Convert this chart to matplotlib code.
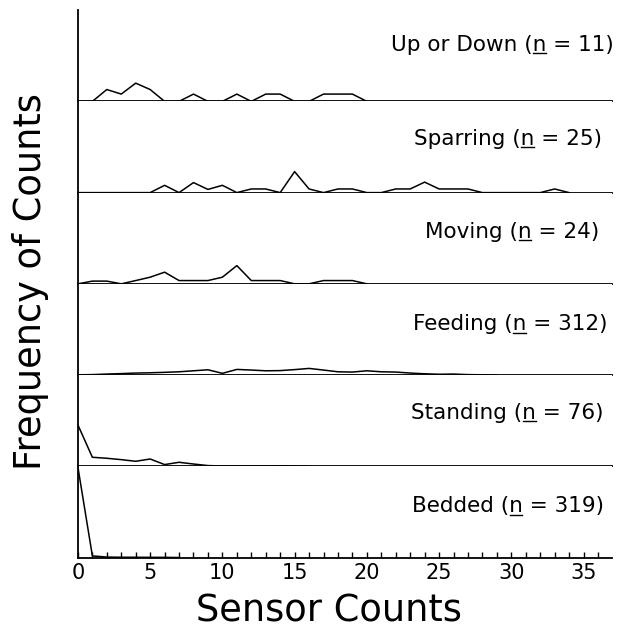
import matplotlib.pyplot as plt
from matplotlib.lines import Line2D
import numpy as np

plt.rcParams['font.family'] = ['DejaVu Sans']

behaviours = ['Up or Down', 'Sparring', 'Moving', 'Feeding', 'Standing', 'Bedded']
sample_sizes = [11, 25, 24, 312, 76, 319]

# percent of counts at each sensor count (list index = sensor count)
up_down = [0, 0, 13, 8, 20, 13, 0, 0, 8, 0, 0, 8, 0, 8, 8, 0, 0, 8, 8, 8, 0]
sparring = [0, 0, 0, 0, 0, 0, 8, 0, 11, 3.5, 8, 0, 4, 4, 0, 23, 4, 0, 4, 4,
            0, 0, 4, 4, 11.5, 4, 4, 4, 0, 0, 0, 0, 0, 4, 0]
moving = [0, 3, 3, 0, 3.6, 7.3, 12.8, 3.6, 3.6, 3.6, 7.3, 20, 3.6, 3.6, 3.6,
          0, 0, 3.6, 3.6, 3.6, 0]
feeding = [0.3, 0.5, 1.1, 1.6, 2.2, 2.5, 3.0, 3.6, 4.7, 5.8, 1.9, 6.2, 5.5, 4.7,
           4.9, 6.0, 7.3, 5.5, 3.6, 3.3, 4.7, 3.6, 3.3, 2.2, 1.4, 0.9, 1.1, 0.5,
           0.3, 0]
standing = [45.3, 9.9, 8.8, 7.3, 5.5, 8.0, 1.9, 4.4, 2.5, 0.8, 0.3, 0.3, 0.3,
            0.3, 0.5, 0.3, 0]
bedded = [99, 1.8, 0.5, 0.3, 0.3, 0.2, 0.2, 0]

series = [up_down, sparring, moving, feeding, standing, bedded]

# where each panel title sits (axes fraction, right edge / baseline)
title_x = [1.003, 0.980, 0.976, 0.991, 0.984, 0.984]
title_y = [0.554, 0.526, 0.508, 0.490, 0.523, 0.497]
title_size = 15.5

fig, axes = plt.subplots(6, 1, sharex=True, figsize=(6.44, 6.35), dpi=100)
fig.subplots_adjust(left=0.121, right=0.951, bottom=0.122, top=0.984, hspace=0)

labels = []
for i, (ax, name, n, vals) in enumerate(zip(axes, behaviours, sample_sizes, series)):
    ax.plot(np.arange(len(vals)), vals, color='black', lw=1.1)
    ax.set_ylim(0, 100)
    ax.set_xlim(0, 37)
    ax.spines['top'].set_visible(False)
    ax.spines['right'].set_visible(False)
    ax.spines['bottom'].set_linewidth(1.3)
    ax.spines['left'].set_linewidth(1.3)
    ax.set_yticks([])
    ax.tick_params(axis='x', which='both', bottom=False, labelbottom=False)
    t = ax.text(title_x[i], title_y[i], '{} (n = {})'.format(name, n),
                transform=ax.transAxes, ha='right', va='baseline',
                fontsize=title_size)
    labels.append((t, name + ' ('))

bottom = axes[-1]
bottom.set_xticks(np.arange(0, 36, 5))
bottom.set_xticks(np.arange(0, 37, 1), minor=True)
bottom.tick_params(axis='x', which='both', bottom=True, labelbottom=True,
                   direction='in', length=4, width=1.0, labelsize=15, pad=4)

fig.text(0.047, 0.557, 'Frequency of Counts', rotation=90, ha='center',
         va='center', fontsize=26.5)
fig.text(0.511, 0.038, 'Sensor Counts', ha='center', va='center', fontsize=26.5)

# underline the "n" in each label
fig.canvas.draw()
renderer = fig.canvas.get_renderer()
inv = fig.transFigure.inverted()
for t, prefix in labels:
    full = t.get_window_extent(renderer)
    tmp = fig.text(0, 0, prefix, fontsize=title_size)
    pw = tmp.get_window_extent(renderer).width
    tmp.set_text(prefix + 'n')
    nw = tmp.get_window_extent(renderer).width - pw
    tmp.remove()
    base = t.get_transform().transform(t.get_position())[1]
    x0, y0 = inv.transform((full.x0 + pw + 0.5, base - 2.5))
    x1, y1 = inv.transform((full.x0 + pw + nw - 0.5, base - 2.5))
    fig.add_artist(Line2D([x0, x1], [y0, y1], color='black', lw=1.0))

fig.savefig('out.png', dpi=100)
